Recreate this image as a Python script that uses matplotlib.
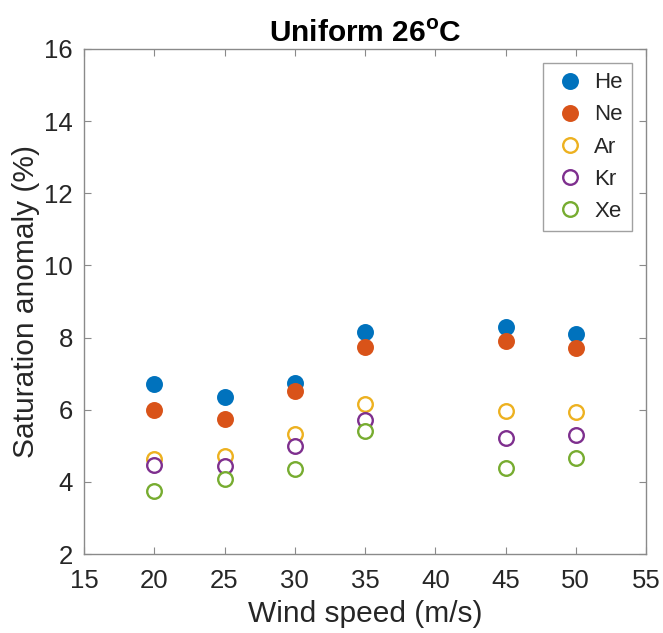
import matplotlib
matplotlib.use('Agg')
import matplotlib.pyplot as plt

plt.rcParams['font.family'] = ['Liberation Sans', 'DejaVu Sans']
plt.rcParams['mathtext.fontset'] = 'custom'
plt.rcParams['mathtext.rm'] = 'Liberation Sans'
plt.rcParams['mathtext.bf'] = 'Liberation Sans:bold'

# wind speeds (m/s) and saturation anomalies (%) per gas
wind = [20, 25, 30, 35, 45, 50]
he = [6.70, 6.35, 6.75, 8.15, 8.30, 8.10]
ne = [6.00, 5.75, 6.52, 7.75, 7.90, 7.70]
ar = [4.62, 4.73, 5.32, 6.15, 5.97, 5.95]
kr = [4.47, 4.43, 5.00, 5.72, 5.22, 5.30]
xe = [3.75, 4.07, 4.35, 5.42, 4.38, 4.66]

gases = ['He', 'Ne', 'Ar', 'Kr', 'Xe']
values = [he, ne, ar, kr, xe]
colors = ['#0072BD', '#D95319', '#EDB120', '#7E2F8E', '#77AC30']
filled = [True, True, False, False, False]

fig = plt.figure(figsize=(6.63, 6.33), dpi=100)
ax = fig.add_axes([0.1267, 0.1248, 0.8477, 0.7978])

for name, vals, c, f in zip(gases, values, colors, filled):
    ax.plot(wind, vals, linestyle='none', marker='o', markersize=10.5,
            markeredgewidth=1.7, markeredgecolor=c,
            markerfacecolor=c if f else 'white', label=name)

ax.set_xlim(15, 55)
ax.set_ylim(2, 16)
ax.set_xticks(range(15, 56, 5))
ax.set_yticks(range(2, 17, 2))

axis_grey = '#8a8a8a'
text_grey = '#262626'
for sp in ax.spines.values():
    sp.set_color(axis_grey)
    sp.set_linewidth(1.0)
ax.tick_params(direction='in', length=5, width=0.8, color=axis_grey,
               labelcolor=text_grey, labelsize=18.5, top=True, right=True)
ax.tick_params(axis='x', pad=11)
ax.tick_params(axis='y', pad=8)

ax.set_xlabel('Wind speed (m/s)', fontsize=21.5, color=text_grey, labelpad=5)
ax.set_ylabel('Saturation anomaly (%)', fontsize=21.5, color=text_grey, labelpad=3)
ax.set_title(r'Uniform 26$^{\mathbf{o}}$C', fontsize=21.5, fontweight='bold',
             color='black', pad=5)

leg = ax.legend(loc='upper right', fontsize=16, frameon=True, fancybox=False,
                edgecolor=axis_grey, borderpad=0.4, labelspacing=0.5,
                handletextpad=0.3, handlelength=1.6, borderaxespad=0.65)
leg.get_frame().set_linewidth(1.0)
for t in leg.get_texts():
    t.set_color(text_grey)

fig.savefig('out.png', dpi=100)
